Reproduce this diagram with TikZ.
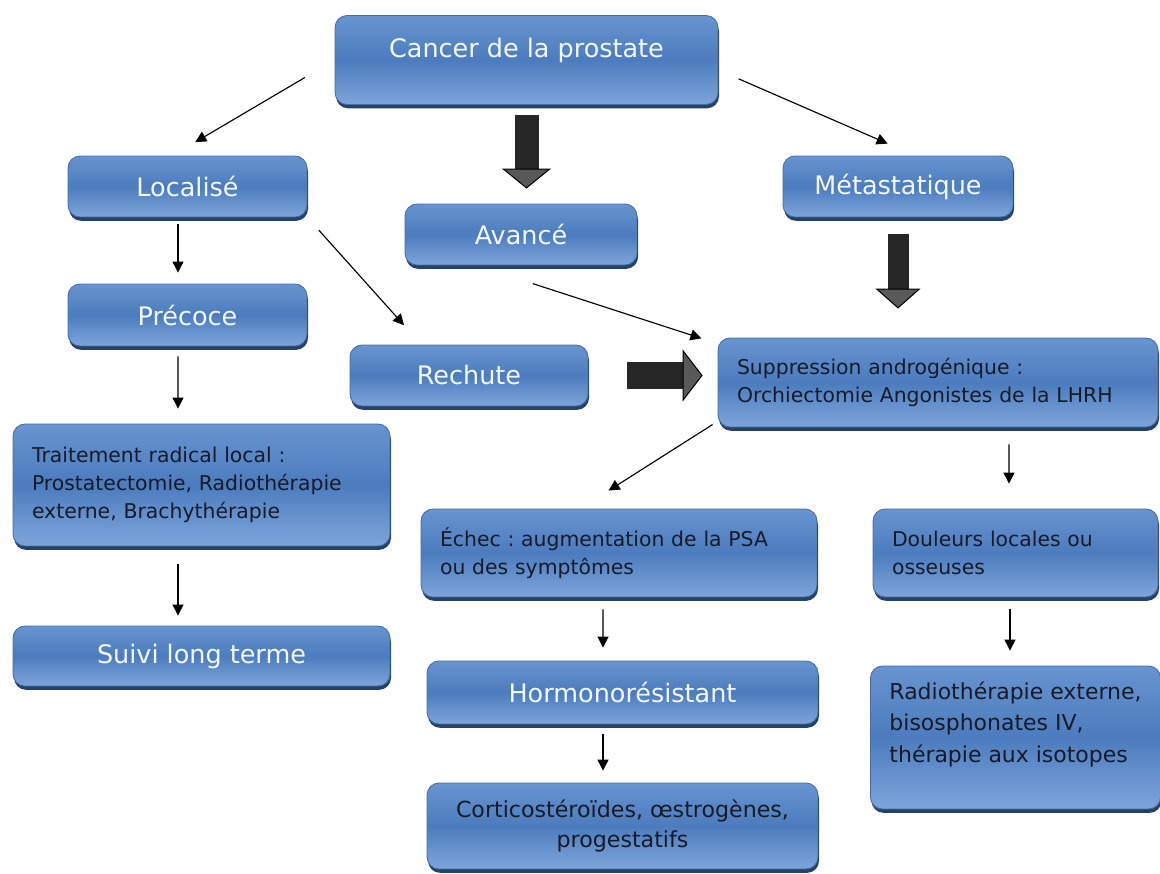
\documentclass[tikz,border=0pt]{standalone}
\usepackage{fontspec}
\setmainfont{DejaVu Sans}
\frenchspacing
\usetikzlibrary{arrows.meta,shadows}
\definecolor{boxtop}{RGB}{104,148,208}
\definecolor{boxmid}{RGB}{76,124,190}
\definecolor{boxbot}{RGB}{126,165,218}
\definecolor{boxedge}{RGB}{70,110,165}
\definecolor{boxshade}{RGB}{38,66,104}
\definecolor{darktext}{RGB}{24,26,40}
\definecolor{lighttext}{RGB}{244,247,252}
\tikzset{bluebox/.style={rounded corners=0.24cm, draw=boxedge, line width=0.5pt,
top color=boxtop, bottom color=boxbot, middle color=boxmid,
drop shadow={shadow xshift=0.6pt, shadow yshift=-2.2pt, fill=boxshade, opacity=1}},
titlebox/.style={bluebox, text=lighttext, font=\fontsize{14.5}{17}\selectfont, inner sep=0pt},
notebox/.style={bluebox, text=darktext, font=\fontsize{11.6}{15.9}\selectfont,
align=left, inner xsep=0.38cm, inner ysep=0pt},
thinarrow/.style={-{Triangle[length=0.22cm,width=0.22cm]}, line width=0.65pt},
bigarrow/.style 2 args={line width=#1, draw=black!85,
-{Triangle[length=0.4cm 0 0, width=#2 0 0, line width=0.6pt, color=black, fill=black!65]}}}

\begin{document}
\begin{tikzpicture}[x=0.02cm, y=-0.02cm]
        \useasboundingbox (0,0) rectangle (1160,874);

        \node[titlebox, minimum width=7.66cm, minimum height=1.78cm, text depth=0.5cm] (cancer) at (526.5,60) {Cancer de la prostate};
        \node[titlebox, minimum width=4.78cm, minimum height=1.22cm] (localise) at (187.5,186.5) {Localisé};
        \node[titlebox, minimum width=4.64cm, minimum height=1.22cm] (avance) at (521,234.5) {Avancé};
        \node[titlebox, minimum width=4.6cm, minimum height=1.22cm] (meta) at (898,186.5) {Métastatique};
        \node[titlebox, minimum width=4.78cm, minimum height=1.24cm] (precoce) at (187.5,315) {Précoce};
        \node[titlebox, minimum width=4.76cm, minimum height=1.22cm] (rechute) at (469,375.5) {Rechute};
        \node[notebox, text width=8.04cm, minimum height=1.78cm] (supp) at (938,382.5)
            {Suppression androgénique :\\Orchiectomie Angonistes de la LHRH};
        \node[notebox, text width=6.78cm, minimum height=2.44cm] (traitement) at (201.5,485)
            {Traitement radical local :\\Prostatectomie, Radiothérapie\\externe, Brachythérapie};
        \node[notebox, text width=7.16cm, minimum height=1.76cm] (echec) at (619,553)
            {Échec : augmentation de la PSA\\ou des symptômes};
        \node[notebox, text width=4.94cm, minimum height=1.76cm] (douleurs) at (1015.5,553)
            {Douleurs locales ou\\osseuses};
        \node[titlebox, minimum width=7.54cm, minimum height=1.2cm] (suivi) at (201.5,656) {Suivi long terme};
        \node[titlebox, minimum width=7.82cm, minimum height=1.26cm] (hormono) at (622.5,692.5) {Hormonorésistant};
        \node[notebox, minimum width=5.7cm, minimum height=2.86cm, font=\fontsize{12.5}{17.9}\selectfont] (radio) at (1015.5,737.5)
            {Radiothérapie externe,\\bisosphonates IV,\\thérapie aux isotopes\\ \mbox{}};
        \node[notebox, align=center, minimum width=7.82cm, minimum height=1.72cm, font=\fontsize{12.6}{17}\selectfont] (cortico) at (622.5,826)
            {Corticostéroïdes, œstrogènes,\\progestatifs};

        \draw (cancer.west) edge[thinarrow, shorten <=0.69cm, shorten >=0.53cm] (localise.116)
              (cancer.-3) edge[thinarrow, shorten <=0.44cm, shorten >=0.6cm] (meta.61)
              
              ([xshift=-0.19cm]localise.south) edge[thinarrow, shorten <=0.14cm, shorten >=0.22cm] ([xshift=-0.19cm]precoce.north)
              ([xshift=-0.19cm]precoce.south) edge[thinarrow, shorten <=0.2cm, shorten >=0.3cm] ([xshift=-0.47cm]traitement.north)
              ([xshift=-0.47cm]traitement.south) edge[thinarrow, shorten <=0.36cm, shorten >=0.2cm] ([xshift=-0.47cm]suivi.north)
              
              (localise.south east) edge[thinarrow, shorten <=0.34cm, shorten >=0.52cm] (rechute.147)
              (avance.-145) edge[thinarrow, shorten <=1.18cm, shorten >=0.34cm] (supp.170)
              
              (supp.-170) edge[thinarrow, shorten <=0.12cm, shorten >=0.67cm] (echec.131)
              ([xshift=1.42cm]supp.south) edge[thinarrow, shorten <=0.34cm, shorten >=0.5cm] ([xshift=-0.13cm]douleurs.north)
              
              ([xshift=-0.32cm]echec.south) edge[thinarrow, shorten <=0.24cm, shorten >=0.26cm] ([xshift=-0.39cm]hormono.north)
              ([xshift=-0.39cm]hormono.south) edge[thinarrow, shorten <=0.2cm, shorten >=0.24cm] ([xshift=-0.39cm]cortico.north)
              ([xshift=-0.11cm]douleurs.south) edge[thinarrow, shorten <=0.24cm, shorten >=0.3cm] ([xshift=-0.11cm]radio.north);

        \draw (cancer.south) edge[bigarrow={0.48cm}{0.98cm}, shorten <=0.2cm, shorten >=0.3cm] (cancer.south |- avance.north)
              (meta.south) edge[bigarrow={0.42cm}{0.9cm}, shorten <=0.34cm, shorten >=0.58cm] (meta.south |- supp.north)
              (rechute.east) edge[bigarrow={0.54cm}{1.04cm}, shorten <=0.78cm, shorten >=0.3cm] (rechute.east -| supp.west);
    \end{tikzpicture}
\end{document}
